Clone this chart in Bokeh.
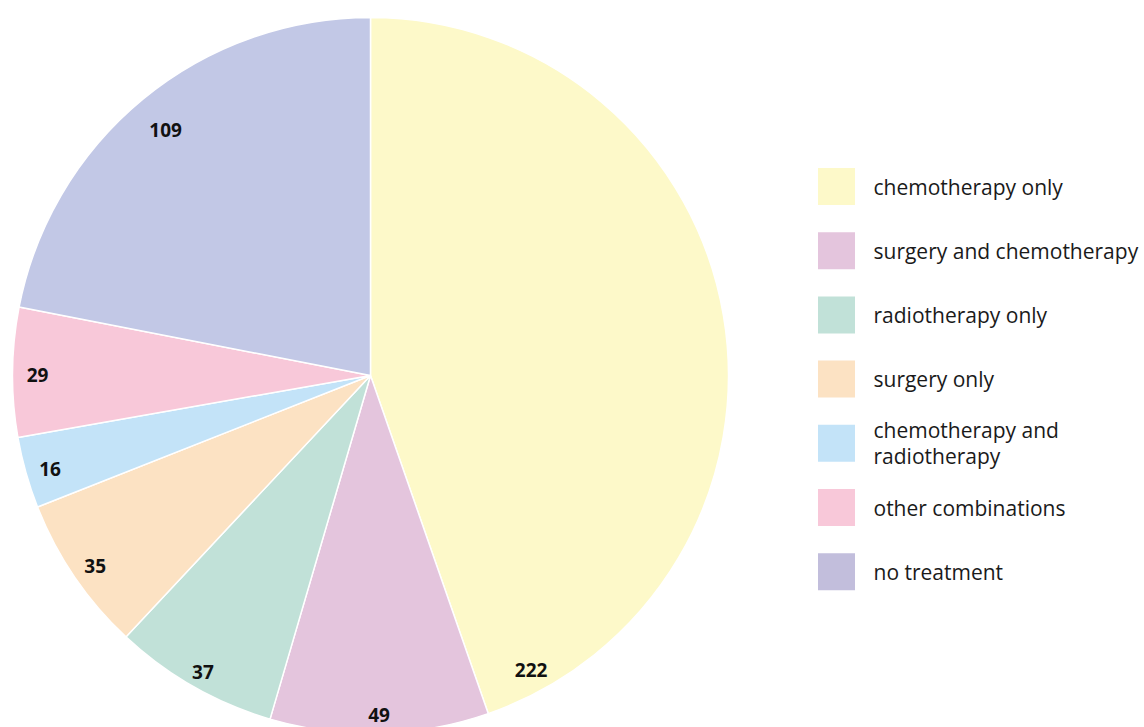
import numpy as np
from bokeh.plotting import figure
from bokeh.models import Range1d, ColumnDataSource
from bokeh.core.properties import value
from bokeh.embed import file_html
from bokeh.resources import INLINE

categories = ["chemotherapy only", "surgery and chemotherapy", "radiotherapy only",
              "surgery only", "chemotherapy and\nradiotherapy", "other combinations",
              "no treatment"]
counts = [222, 49, 37, 35, 16, 29, 109]
colors = ["#FDF9C9", "#E4C5DD", "#C1E1D8", "#FCE2C3", "#C3E3F8", "#F8C8D9", "#C2C8E6"]
legend_colors = ["#FDF9C9", "#E4C5DD", "#C1E1D8", "#FCE2C3", "#C3E3F8", "#F8C8D9", "#C2BEDC"]

W, H = 1144, 727
R = 358
cx, cy = 370, 375  # pie center in plot pixels

p = figure(width=W, height=H, output_backend="svg", toolbar_location=None,
           x_range=Range1d(-cx, W - cx), y_range=Range1d(-(H - cy), cy),
           min_border=0, outline_line_color=None)
p.axis.visible = False
p.grid.visible = False

vals = np.array(counts, dtype=float)
frac = vals / vals.sum()
ang = frac * 2 * np.pi
ends_cum = np.cumsum(ang)
starts_cum = ends_cum - ang
start = np.pi / 2 - starts_cum
end = np.pi / 2 - ends_cum

src = ColumnDataSource(dict(start=start, end=end, color=colors))
p.wedge(x=0, y=0, radius=R, start_angle="start", end_angle="end", direction="clock",
        fill_color="color", line_color="white", line_width=1.5, source=src)

# labels
mid = (start + end) / 2
lab_ang = mid.copy()
lab_ang[0] = start[0] + 0.94 * (end[0] - start[0])
lab_r = np.full(len(counts), 0.93 * R)
lab_r[-1] = 0.9 * R
lab_r[1] = 0.94 * R
lab_r[2] = 0.945 * R
lsrc = ColumnDataSource(dict(x=lab_r * np.cos(lab_ang), y=lab_r * np.sin(lab_ang),
                             t=[str(c) for c in counts]))
p.text(x="x", y="y", text="t", source=lsrc, text_align="center", text_baseline="middle",
       y_offset=3,
       text_font=value("Open Sans"), text_font_style="bold", text_font_size="19px",
       text_color="#111111")

# legend
n = len(categories)
ly = (cy - 186) - np.arange(n) * 64.2
lx = 466
gsrc = ColumnDataSource(dict(x=[lx] * n, y=ly, color=legend_colors))
p.rect(x="x", y="y", width=37, height=37, fill_color="color", line_color=None, source=gsrc)
tsrc = ColumnDataSource(dict(x=[lx + 37] * n, y=ly, t=categories))
p.text(x="x", y="y", text="t", source=tsrc, text_align="left", text_baseline="middle",
       text_font=value("Open Sans"), text_font_size="21px", text_color="#1a1a1a",
       text_line_height=0.92)

open("out.html", "w").write(file_html(p, INLINE))
